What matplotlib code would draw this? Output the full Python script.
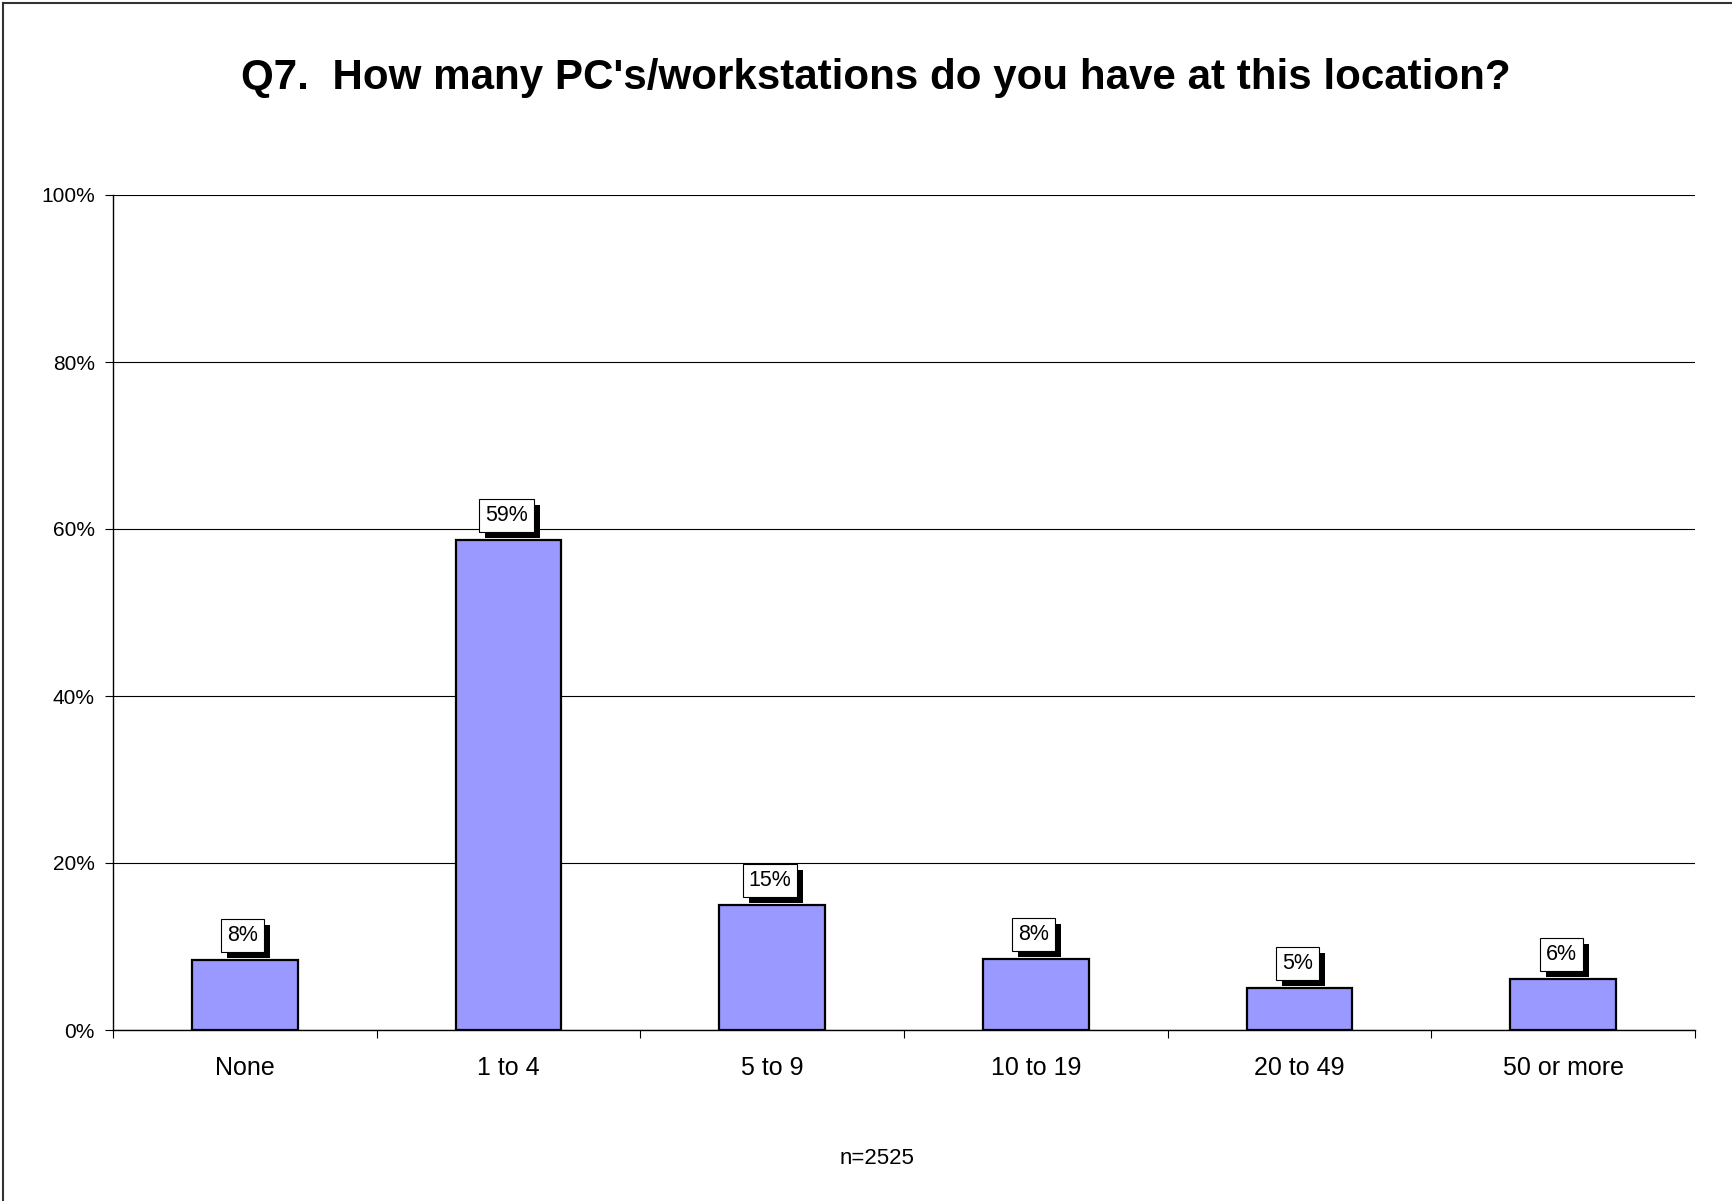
import matplotlib
matplotlib.use("Agg")
import matplotlib.pyplot as plt
import matplotlib.patheffects as pe
from matplotlib.lines import Line2D

# data
categories = ["None", "1 to 4", "5 to 9", "10 to 19", "20 to 49", "50 or more"]
values = [8.4, 58.7, 15.0, 8.5, 5.0, 6.1]
value_labels = ["8%", "59%", "15%", "8%", "5%", "6%"]
yticks = [0, 20, 40, 60, 80, 100]
ytick_labels = ["0%", "20%", "40%", "60%", "80%", "100%"]

plt.rcParams["font.family"] = ["Liberation Sans", "DejaVu Sans"]

W, H = 1733, 1201
fig = plt.figure(figsize=(W / 100, H / 100), dpi=100)
ax = fig.add_axes([113 / W, 1 - 1030 / H, (1695 - 113) / W, (1030 - 195) / H])

x = list(range(len(categories)))
ax.bar(x, values, width=0.4, color="#9999FF", edgecolor="black", linewidth=1.6, zorder=3)

ax.set_xlim(-0.5, len(categories) - 0.5)
ax.set_ylim(0, 100)
ax.set_yticks(yticks)
ax.set_yticklabels(ytick_labels, fontsize=15)
ax.yaxis.grid(True, color="black", linewidth=0.8)
ax.set_axisbelow(True)

# ticks on category boundaries, labels in the middle
ax.set_xticks([i - 0.5 for i in range(len(categories) + 1)])
ax.set_xticklabels([])
ax.set_xticks(x, minor=True)
ax.set_xticklabels(categories, minor=True, fontsize=18)
ax.tick_params(axis="x", which="major", length=6, width=0.8, direction="out")
ax.tick_params(axis="x", which="minor", length=0, pad=18.5)
ax.tick_params(axis="y", length=6, width=0.8, pad=7)

for s in ["top", "right"]:
    ax.spines[s].set_visible(False)
for s in ["left", "bottom"]:
    ax.spines[s].set_linewidth(1.0)

for xi, v, lab in zip(x, values, value_labels):
    t = ax.annotate(lab, (xi, v), xytext=(-1.5, 10), textcoords="offset points",
                    ha="center", va="bottom", fontsize=15.5, zorder=5,
                    bbox=dict(boxstyle="square,pad=0.28", fc="white", ec="black", lw=0.8))
    t.get_bbox_patch().set_path_effects([
        pe.SimplePatchShadow(offset=(4.3, -4.3), shadow_rgbFace="black", alpha=1.0),
        pe.Normal()])

fig.text(876 / W, 1 - 78.5 / H, "Q7.  How many PC's/workstations do you have at this location?",
         ha="center", va="center", fontsize=30.3, fontweight="bold")
fig.text(877 / W, 1 - 1158 / H, "n=2525", ha="center", va="center", fontsize=16)

# outer frame (left and top edges visible)
fig.add_artist(Line2D([2.5 / W, 2.5 / W], [0, 1 - 2.5 / H], transform=fig.transFigure,
                      color="#333333", linewidth=1.5))
fig.add_artist(Line2D([2.5 / W, 1], [1 - 2.5 / H, 1 - 2.5 / H], transform=fig.transFigure,
                      color="#333333", linewidth=1.5))

fig.savefig("out.png", dpi=100)
